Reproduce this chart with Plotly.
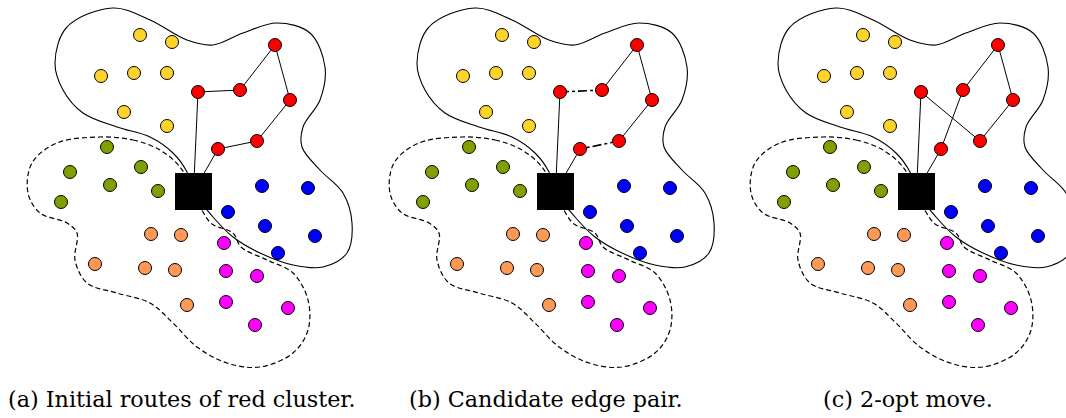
import plotly.graph_objects as go

# Customer locations (x, y) in drawing units, shared by every panel
yellow_x = [140, 172, 101, 134, 167, 124, 167]
yellow_y = [35, 42, 76, 73, 73, 112, 126]
red_x = [198, 240, 275, 290, 257, 218]
red_y = [92, 90, 45, 100, 141, 149]
green_x = [107, 70, 141, 110, 158, 61]
green_y = [147, 172, 167, 185, 191, 202]
blue_x = [262, 308, 228, 265, 315, 278]
blue_y = [186, 188, 212, 226, 236, 253]
orange_x = [151, 181, 95, 145, 175, 187]
orange_y = [234, 235, 264, 268, 270, 305]
magenta_x = [224, 226, 257, 226, 288, 255]
magenta_y = [243, 271, 276, 302, 308, 325]

depot_x, depot_y = 193.5, 191.5

# Cluster outlines (closed)
solid_blob_x = [55, 67, 113, 150, 187, 213, 243, 277, 310, 325, 320, 303, 302, 320,
                343, 352, 347, 323, 293, 260, 233, 213, 193.5, 187, 173, 150, 117, 83, 63, 55]
solid_blob_y = [63, 27, 8, 20, 40, 45, 33, 23, 33, 67, 100, 127, 147, 170,
                193, 223, 253, 267, 265, 253, 237, 217, 191.5, 172, 153, 137, 127, 113, 90, 63]
dashed_blob_x = [100, 133, 160, 180, 193.5, 203, 212, 233, 241, 267, 293, 308, 308, 293,
                 260, 227, 197, 173, 150, 117, 87, 75, 77, 67, 40, 28, 32, 57, 100]
dashed_blob_y = [137, 140, 150, 167, 191.5, 212, 224, 233, 247, 260, 273, 300, 330, 353,
                 367, 363, 347, 323, 303, 293, 283, 260, 233, 223, 213, 193, 163, 143, 137]

# Red route visiting order (indices into red_x / red_y), and removed edges per panel
route_a = [0, 1, 2, 3, 4, 5]
route_c = [0, 4, 3, 2, 1, 5]
candidate_edges = [(0, 1), (4, 5)]

panel_offsets = [0, 362, 723]
captions = ["(a) Initial routes of red cluster.", "(b) Candidate edge pair.", "(c) 2-opt move."]
caption_x = [6, 407, 821]

clusters = [
    (yellow_x, yellow_y, "#FFD42A"),
    (green_x, green_y, "#80A000"),
    (orange_x, orange_y, "#FF9955"),
    (magenta_x, magenta_y, "#FF00FF"),
    (blue_x, blue_y, "#0000FF"),
    (red_x, red_y, "#FF0000"),
]

fig = go.Figure()


def shift(xs, dx):
    return [v + dx for v in xs]


for p, dx in enumerate(panel_offsets):
    # cluster outlines
    fig.add_trace(go.Scatter(x=shift(solid_blob_x, dx), y=solid_blob_y, mode="lines",
                             line=dict(color="black", width=1.1, shape="spline", smoothing=1.0),
                             hoverinfo="skip"))
    fig.add_trace(go.Scatter(x=shift(dashed_blob_x, dx), y=dashed_blob_y, mode="lines",
                             line=dict(color="black", width=1.2, dash="5px,3px",
                                       shape="spline", smoothing=1.0),
                             hoverinfo="skip"))

    # red route edges
    order = route_c if p == 2 else route_a
    stops = [None] + order + [None]
    for a, b in zip(stops[:-1], stops[1:]):
        xa = depot_x if a is None else red_x[a]
        ya = depot_y if a is None else red_y[a]
        xb = depot_x if b is None else red_x[b]
        yb = depot_y if b is None else red_y[b]
        dashed = p == 1 and ((a, b) in candidate_edges or (b, a) in candidate_edges)
        fig.add_trace(go.Scatter(x=[xa + dx, xb + dx], y=[ya, yb], mode="lines",
                                 line=dict(color="black", width=1.6 if dashed else 1,
                                           dash="dashdot" if dashed else "solid"),
                                 hoverinfo="skip"))

    # depot
    fig.add_trace(go.Scatter(x=[depot_x + dx], y=[depot_y], mode="markers",
                             marker=dict(symbol="square", size=37, color="black",
                                         line=dict(width=0)),
                             hoverinfo="skip"))

    # customers
    for xs, ys, col in clusters:
        fig.add_trace(go.Scatter(x=shift(xs, dx), y=ys, mode="markers",
                                 marker=dict(size=13, color=col,
                                             line=dict(color="black", width=1)),
                                 hoverinfo="skip"))

    fig.add_annotation(x=caption_x[p], y=399, text=captions[p], showarrow=False,
                       xanchor="left", yanchor="middle",
                       font=dict(family="DejaVu Serif", size=22.3, color="black"))

fig.update_layout(
    width=1066, height=418,
    margin=dict(l=0, r=0, t=0, b=0),
    paper_bgcolor="white", plot_bgcolor="white",
    showlegend=False,
    xaxis=dict(range=[0, 1066], visible=False, fixedrange=True),
    yaxis=dict(range=[418, 0], visible=False, fixedrange=True),
)

fig.write_html("out.html")
